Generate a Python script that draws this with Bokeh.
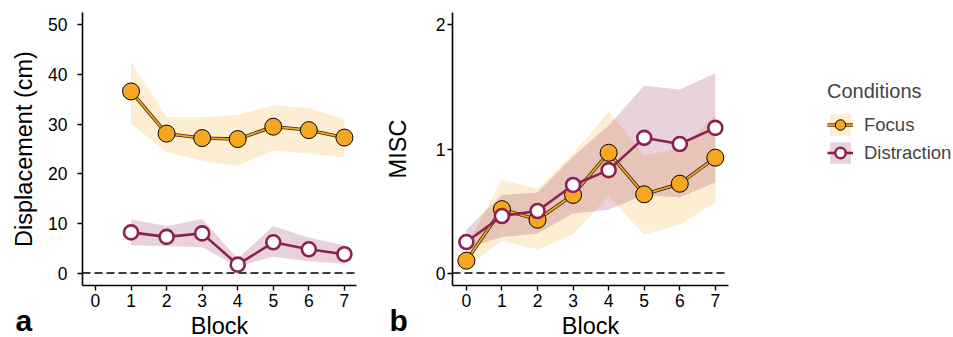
from bokeh.plotting import figure
from bokeh.models import (ColumnDataSource, FixedTicker, Span, Title, Legend, LegendItem, Range1d)
from bokeh.layouts import row
from bokeh.embed import file_html
from bokeh.resources import INLINE

# ---------------- data ----------------
blocks_a = [1, 2, 3, 4, 5, 6, 7]
focus_disp = [36.6, 28.1, 27.2, 27.0, 29.5, 28.8, 27.3]
focus_disp_hi = [42.6, 31.4, 31.4, 31.9, 33.8, 33.2, 31.0]
focus_disp_lo = [30.1, 24.4, 22.6, 21.6, 24.7, 24.1, 23.3]
distr_disp = [8.2, 7.3, 8.0, 1.7, 6.2, 4.8, 3.8]
distr_disp_hi = [10.8, 9.5, 10.9, 2.9, 9.5, 7.1, 5.6]
distr_disp_lo = [5.6, 5.4, 5.2, 1.3, 3.3, 2.4, 1.9]

blocks_b = [0, 1, 2, 3, 4, 5, 6, 7]
focus_misc = [0.10, 0.515, 0.43, 0.63, 0.97, 0.635, 0.72, 0.93]
focus_misc_hi = [0.22, 0.75, 0.68, 0.96, 1.30, 0.95, 1.00, 1.27]
focus_misc_lo = [0.05, 0.26, 0.19, 0.31, 0.62, 0.31, 0.39, 0.57]
distr_misc = [0.25, 0.46, 0.50, 0.71, 0.83, 1.09, 1.04, 1.17]
distr_misc_hi = [0.35, 0.63, 0.65, 0.94, 1.19, 1.51, 1.48, 1.61]
distr_misc_lo = [0.20, 0.29, 0.32, 0.48, 0.51, 0.63, 0.61, 0.73]

x_ticks = [0, 1, 2, 3, 4, 5, 6, 7]
y_ticks_a = [0, 10, 20, 30, 40, 50]
y_ticks_b = [0, 1, 2]

ORANGE = "#F5A623"
MAROON = "#8B2252"
FONT = "Liberation Sans"


def style(p, yticks, ylabel, ylabel_standoff, ytick_standoff):
    p.xgrid.visible = False
    p.ygrid.visible = False
    p.outline_line_color = None
    p.background_fill_color = "white"
    p.border_fill_color = "white"
    p.xaxis.ticker = FixedTicker(ticks=x_ticks)
    p.yaxis.ticker = FixedTicker(ticks=yticks)
    for ax in (p.xaxis[0], p.yaxis[0]):
        ax.axis_line_width = 1.6
        ax.axis_line_color = "black"
        ax.major_tick_line_width = 1.4
        ax.major_tick_line_color = "black"
        ax.major_tick_out = 5
        ax.major_tick_in = 0
        ax.minor_tick_line_color = None
        ax.major_label_text_font = FONT
        ax.major_label_text_font_size = "17.5px"
        ax.major_label_text_color = "black"
        ax.axis_label_text_font = FONT
        ax.axis_label_text_font_size = "23.5px"
        ax.axis_label_text_font_style = "normal"
        ax.axis_label_text_color = "black"
    p.xaxis.axis_label = "Block"
    p.xaxis.major_label_standoff = 3
    p.xaxis.axis_label_standoff = 3
    p.yaxis.axis_label = ylabel
    p.yaxis.major_label_standoff = ytick_standoff
    p.yaxis.axis_label_standoff = ylabel_standoff
    p.add_layout(Span(location=0, dimension="width", line_color="black",
                      line_width=1.5, line_dash="8 4", level="underlay"))


def add_series(p, x, f, fhi, flo, d, dhi, dlo):
    fs = ColumnDataSource(dict(x=x, y=f, hi=fhi, lo=flo))
    ds = ColumnDataSource(dict(x=x, y=d, hi=dhi, lo=dlo))
    fa = p.varea(x="x", y1="lo", y2="hi", source=fs, fill_color=ORANGE, fill_alpha=0.2)
    da = p.varea(x="x", y1="lo", y2="hi", source=ds, fill_color=MAROON, fill_alpha=0.2)
    fl0 = p.line(x="x", y="y", source=fs, line_color="#3a2a10", line_width=3.4)
    fl1 = p.line(x="x", y="y", source=fs, line_color=ORANGE, line_width=1.8)
    fm = p.scatter(x="x", y="y", source=fs, size=17, fill_color=ORANGE,
                   line_color="black", line_width=1)
    dl = p.line(x="x", y="y", source=ds, line_color=MAROON, line_width=2.6)
    dm = p.scatter(x="x", y="y", source=ds, size=14, fill_color="white",
                   line_color=MAROON, line_width=2.6)
    return [fa, fl0, fl1, fm], [da, dl, dm]


def panel_letter(p, letter, offset):
    p.add_layout(Title(text=letter, align="left", offset=offset, vertical_align="top",
                       standoff=-75, text_font=FONT, text_font_size="30px",
                       text_font_style="bold", text_color="black"), "below")


common = dict(output_backend="svg", toolbar_location=None, tools="",
              frame_height=273, min_border_top=12, min_border_bottom=52)

pa = figure(frame_width=274, min_border_left=82, min_border_right=24,
            y_range=Range1d(-2.5, 52.5), x_range=Range1d(-0.365, 7.34), **common)
style(pa, y_ticks_a, "Displacement (cm)", 8, 10)
add_series(pa, blocks_a, focus_disp, focus_disp_hi, focus_disp_lo,
           distr_disp, distr_disp_hi, distr_disp_lo)
panel_letter(pa, "a", -67)

pb = figure(frame_width=276, min_border_left=72, min_border_right=225,
            y_range=Range1d(-0.1, 2.1), x_range=Range1d(-0.39, 7.37), **common)
style(pb, y_ticks_b, "MISC", 22, 2)
f_r, d_r = add_series(pb, blocks_b, focus_misc, focus_misc_hi, focus_misc_lo,
                      distr_misc, distr_misc_hi, distr_misc_lo)
panel_letter(pb, "b", -63)

legend = Legend(items=[LegendItem(label="Focus", renderers=f_r),
                       LegendItem(label="Distraction", renderers=d_r)],
                location=(99, 119), title="Conditions",
                title_text_font=FONT, title_text_font_size="20px",
                title_text_font_style="normal", title_standoff=8,
                label_text_font=FONT, label_text_font_size="18.5px",
                label_standoff=11, glyph_width=26, glyph_height=27,
                label_height=27, spacing=1, padding=0, margin=0,
                border_line_color=None, background_fill_alpha=0)
pb.add_layout(legend, "right")

layout = row(pa, pb)
open("out.html", "w").write(file_html(layout, INLINE))
